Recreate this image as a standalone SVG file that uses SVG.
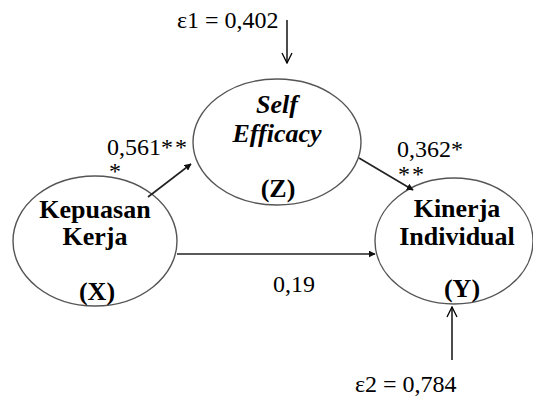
<svg xmlns="http://www.w3.org/2000/svg" width="533" height="398" viewBox="0 0 533 398">
<defs>
<style>
.node{fill:#fff;stroke:#555;stroke-width:1.4}
.lbl{font-family:"Liberation Serif",serif;font-weight:bold;font-size:26px;fill:#000;text-anchor:middle}
.it{font-style:italic}
.num{font-family:"Liberation Serif",serif;font-size:24px;fill:#000}
.path{stroke:#222;stroke-width:1.6;fill:none}
.err{stroke:#000;stroke-width:1.4;fill:none}
</style>
<marker id="tri" viewBox="0 0 10 10" refX="9" refY="5" markerWidth="7" markerHeight="7" orient="auto" markerUnits="userSpaceOnUse">
<path d="M0,0 L10,5 L0,10 z" fill="#111"/>
</marker>
<marker id="vee" viewBox="0 0 12 12" refX="11" refY="6" markerWidth="12" markerHeight="12" orient="auto" markerUnits="userSpaceOnUse">
<path d="M1,1 L11,6 L1,11" fill="none" stroke="#000" stroke-width="1.3"/>
</marker>
</defs>
<rect width="533" height="398" fill="#fff"/>
<g id="node-X">
<ellipse class="node" cx="95" cy="241" rx="82" ry="65"/>
<text class="lbl" x="95" y="218">Kepuasan</text>
<text class="lbl" x="95" y="245">Kerja</text>
<text class="lbl" x="97" y="300">(X)</text>
</g>
<g id="node-Z">
<ellipse class="node" cx="277" cy="142" rx="84" ry="63"/>
<text class="lbl it" x="277" y="113">Self</text>
<text class="lbl it" x="277" y="142">Efficacy</text>
<text class="lbl" x="278" y="197">(Z)</text>
</g>
<g id="node-Y">
<ellipse class="node" cx="454" cy="241" rx="79" ry="63"/>
<text class="lbl" x="457" y="217">Kinerja</text>
<text class="lbl" x="457" y="245">Individual</text>
<text class="lbl" x="462" y="297">(Y)</text>
</g>
<g id="connectors">
<line class="path" x1="148" y1="197" x2="191" y2="164" marker-end="url(#tri)"/>
<line class="path" x1="177" y1="254" x2="375" y2="254" marker-end="url(#tri)"/>
<line class="path" x1="359" y1="158" x2="413" y2="190" marker-end="url(#tri)"/>
<line class="err" x1="287" y1="20" x2="287" y2="63" marker-end="url(#vee)"/>
<line class="err" x1="452" y1="360" x2="452" y2="307" marker-end="url(#vee)"/>
</g>
<g id="labels">
<text class="num" x="177" y="28">ε1 = 0,402</text>
<text class="num" x="355" y="392">ε2 = 0,784</text>
<text class="num" x="107" y="155">0,561<tspan letter-spacing="2">**</tspan></text>
<text class="num" x="109" y="179">*</text>
<text class="num" x="397" y="157">0,362*</text>
<text class="num" x="398" y="182" letter-spacing="2">**</text>
<text class="num" x="273" y="292">0,19</text>
</g>
</svg>
